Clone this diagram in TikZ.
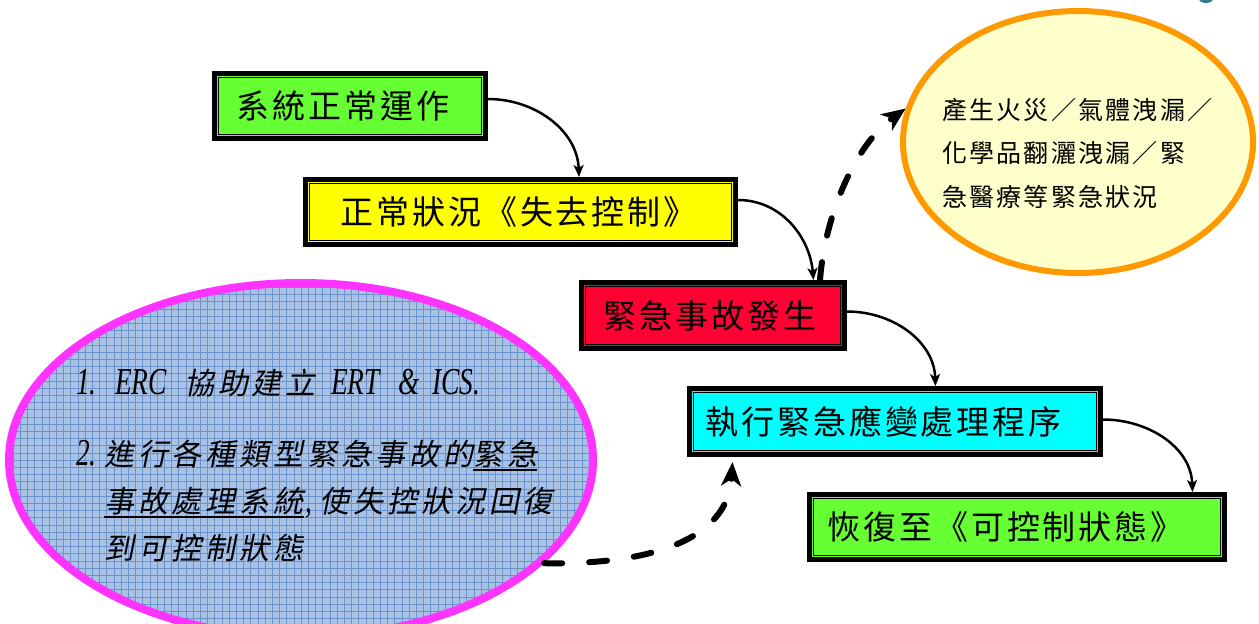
\documentclass[tikz,border=0pt]{standalone}
\usepackage{fontspec}
\usetikzlibrary{arrows.meta,calc,shapes.geometric}
\newfontfamily\cjkbox[LetterSpace=9]{Noto Sans CJK TC}
\newfontfamily\cjkor[LetterSpace=9]{Noto Sans CJK TC}
\newfontfamily\cjkit[FakeSlant=0.2,LetterSpace=13]{Noto Sans CJK TC}
\newfontfamily\latit[FakeStretch=0.72]{Liberation Serif}
\newcommand\boxfont{\cjkbox\fontsize{33}{33}\selectfont}
\newcommand\orfont{\cjkor\fontsize{25}{25}\selectfont}
\newcommand\mfont{\cjkit\fontsize{30}{30}\selectfont}
\newcommand\lfont{\latit\itshape\fontsize{38}{38}\selectfont}
\newcommand\myul[1]{\setbox0\hbox{#1}\rlap{\rule[-6pt]{\wd0}{2pt}}\box0}
\definecolor{boxgreen}{HTML}{66FF33}
\definecolor{boxyellow}{HTML}{FFFF00}
\definecolor{boxred}{HTML}{FF0033}
\definecolor{boxcyan}{HTML}{00FFFF}
\definecolor{oredge}{HTML}{FF9900}
\definecolor{orfill}{HTML}{FFFFCC}
\definecolor{mgedge}{HTML}{FF33FF}
\definecolor{gridfill}{HTML}{A9C1E3}
\definecolor{gridline}{HTML}{6A92CC}
\definecolor{blob}{HTML}{2F7F8C}
\begin{document}
\begin{tikzpicture}[x=1pt,y=-1pt,
  box/.style={draw=black, line width=5pt, rectangle, inner sep=0pt},
  boxtext/.style={anchor=west, inner sep=0pt, font=\boxfont},
  frame/.style={draw=black, line width=1pt},
  flow/.style={line width=2.5pt, -{Stealth[length=12pt,width=10pt,inset=3pt]}},
  jump/.style={line width=6pt, line cap=round, dash pattern=on 18pt off 27pt,
    -{Stealth[length=24pt,width=20pt,inset=7pt]}},
  mtext/.style={anchor=base west, inner sep=0pt},
]
\useasboundingbox (0,0) rectangle (1259,624);
\clip (0,0) rectangle (1259,624);

% top-right fragment
\fill[blob] (1206,-1) ellipse (7 and 4);

% orange ellipse
\node[ellipse, draw=oredge, line width=6pt, fill=orfill, minimum width=350pt,
  minimum height=262pt, inner sep=0pt] (oe) at (1078,142) {};
\node[mtext, font=\orfont] (ot1) at (942,119) {產生火災／氣體洩漏／};
\node[mtext, font=\orfont] (ot2) at (942,162) {化學品翻灑洩漏／緊};
\node[mtext, font=\orfont] (ot3) at (942,206) {急醫療等緊急狀況};

% magenta grid ellipse
\node[ellipse, draw=mgedge, line width=8pt, fill=gridfill, minimum width=584pt,
  minimum height=354pt, inner sep=0pt,
  path picture={\draw[gridline, line width=0.55pt, step=7.2pt]
    (path picture bounding box.south west) grid (path picture bounding box.north east);}]
  (me) at (301,460) {};
\node[mtext] (m1) at (76,394) {\makebox[39pt][l]{\lfont 1.}\makebox[69pt][l]{\lfont ERC}\makebox[147pt][l]{\mfont 協助建立}\makebox[67pt][l]{\lfont ERT}\makebox[34pt][l]{\lfont\&}{\lfont ICS.}};
\node[mtext] (m2) at (76,465) {\makebox[28pt][l]{\lfont 2.}{\mfont 進行各種類型緊急事故的\myul{緊急}}};
\node[mtext] (m3) at (104,512) {\mfont\myul{事故處理系統}\hspace{2pt}{\lfont,}\hspace{7pt}使失控狀況回復};
\node[mtext] (m4) at (104,559) {\mfont 到可控制狀態};

% boxes
\node[box, fill=boxgreen, minimum width=271pt, minimum height=65pt] (b1) at (350,106) {};
\node[box, fill=boxyellow, minimum width=430pt, minimum height=65pt] (b2) at (520.5,212) {};
\node[box, fill=boxred, minimum width=263pt, minimum height=66pt] (b3) at (713,315.5) {};
\node[box, fill=boxcyan, minimum width=411pt, minimum height=66pt] (b4) at (895,421.5) {};
\node[box, fill=boxgreen, minimum width=415pt, minimum height=65pt] (b5) at (1017,527) {};
\foreach \b in {b1,b2,b3,b4,b5}
  \draw[frame] ($(\b.north west)+(6.5,6.5)$) rectangle ($(\b.south east)+(-6.5,-6.5)$);

\node[boxtext] (t1) at (236,106) {系統正常運作};
\node[boxtext] (t2) at (340,212) {正常狀況《失去控制》};
\node[boxtext] (t3) at (603,315.5) {緊急事故發生};
\node[boxtext] (t4) at (705,421.5) {執行緊急應變處理程序};
\node[boxtext] (t5) at (827,527) {恢復至《可控制狀態》};

% solid flow arrows
\draw[flow] ($(b1.east)+(0,-7)$) to[out=0,in=92] ($(b2.north west)+(276,0)$);
\draw[flow] ($(b2.east)+(0,-12)$) to[out=0,in=95] ($(b3.north west)+(234.5,0)$);
\draw[flow] ($(b3.east)+(0,-4)$) to[out=0,in=92] ($(b4.north west)+(248.5,0)$);
\draw[flow] ($(b4.east)+(0,-2)$) to[out=0,in=92] ($(b5.north west)+(385.5,0)$);

% dashed jump arrows
\draw[jump] ($(b3.north east)+(-27,0)$) .. controls (825,215) and (855,145) .. (oe.169.5);
\draw[jump] (me.-23.5) .. controls (650,565) and (728,540) .. ($(b4.south west)+(45.5,5)$);
\end{tikzpicture}
\end{document}
